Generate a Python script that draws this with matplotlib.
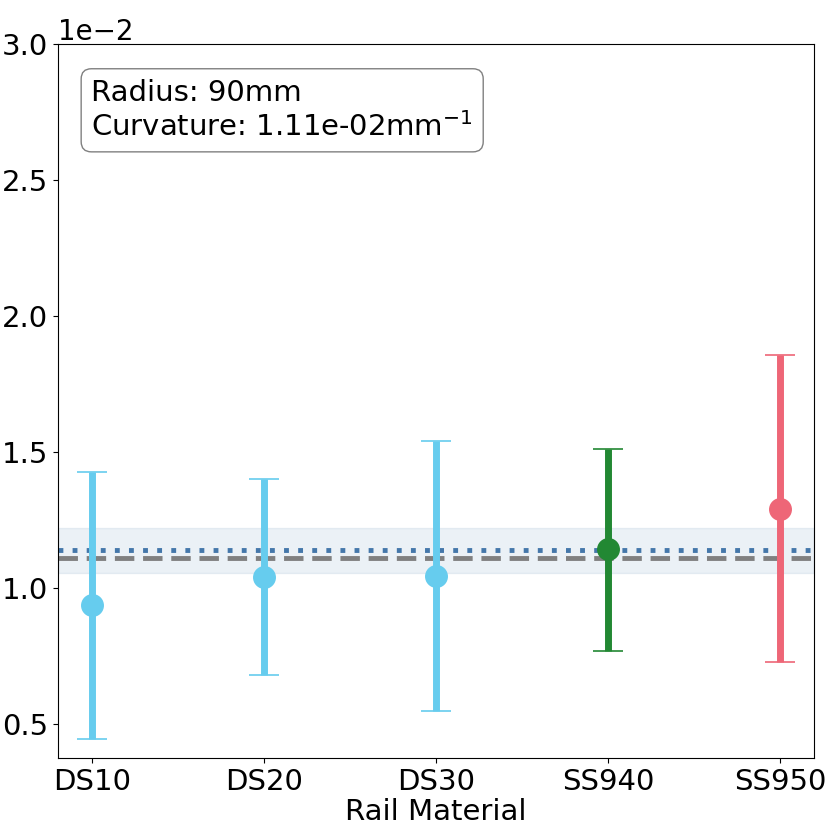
import matplotlib
matplotlib.use("Agg")
import matplotlib.pyplot as plt
import numpy as np

materials = ["DS10", "DS20", "DS30", "SS940", "SS950"]
curv_mean = [0.935e-2, 1.039e-2, 1.042e-2, 1.141e-2, 1.289e-2]
curv_upper = [1.427e-2, 1.398e-2, 1.539e-2, 1.51e-2, 1.857e-2]
curv_lower = [0.442e-2, 0.677e-2, 0.545e-2, 0.766e-2, 0.725e-2]
colors = ["#66CCEE", "#66CCEE", "#66CCEE", "#228833", "#EE6677"]

true_curv = 1.11e-2          # 1 / 90mm
overall_mean = 1.140e-2
band_lo, band_hi = 1.055e-2, 1.221e-2

fig = plt.figure(figsize=(8.3, 8.3), dpi=100)
ax = fig.add_axes([0.070, 0.087, 0.911, 0.860])

ax.axhspan(band_lo, band_hi, facecolor="#4477AA", alpha=0.1,
           edgecolor="#4477AA", linewidth=1)
ax.axhline(true_curv, color="gray", lw=3.5, ls=(0, (4, 1.8)))
ax.axhline(overall_mean, color="#4477AA", lw=3.5, ls=(0, (1, 1.9)))

x = np.arange(len(materials))
for i in x:
    m = curv_mean[i]
    ax.errorbar(i, m, yerr=[[m - curv_lower[i]], [curv_upper[i] - m]],
                fmt="o", color=colors[i], ms=15.5, elinewidth=5,
                capsize=11, capthick=1.2)

ax.set_xticks(x)
ax.set_xticklabels(materials)
ax.set_xlim(-0.2, 4.2)
ax.set_ylim(0.374e-2, 3.0e-2)
ax.set_yticks(np.arange(0.5, 3.01, 0.5) * 1e-2)
ax.ticklabel_format(axis="y", style="sci", scilimits=(0, 0))
ax.yaxis.get_offset_text().set_fontsize(20)
ax.tick_params(labelsize=21)
ax.set_xlabel("Rail Material", fontsize=21, labelpad=2)

ax.text(0.044, 0.951, "Radius: 90mm\nCurvature: 1.11e-02mm$^{-1}$",
        transform=ax.transAxes, fontsize=21, va="top", ha="left",
        bbox=dict(boxstyle="round,pad=0.35", facecolor="white",
                  edgecolor="gray"))

fig.savefig("out.png", dpi=100)
